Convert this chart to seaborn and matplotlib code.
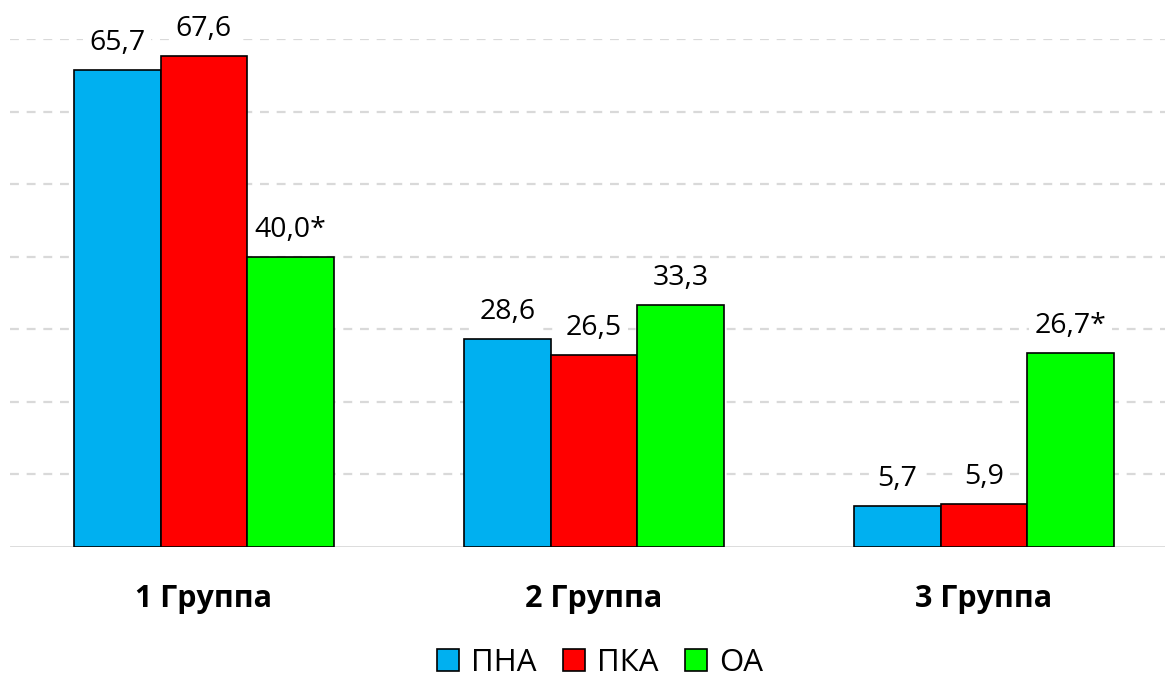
import matplotlib
matplotlib.use("Agg")
import matplotlib.pyplot as plt
from matplotlib.patches import Patch
import seaborn as sns
import pandas as pd

# Chart data
groups = ["1 Группа", "2 Группа", "3 Группа"]
series = ["ПНА", "ПКА", "ОА"]
pna = [65.7, 28.6, 5.7]
pka = [67.6, 26.5, 5.9]
oa = [40.0, 33.3, 26.7]
# significance marks appended to the value labels
pna_marks = ["", "", ""]
pka_marks = ["", "", ""]
oa_marks = ["*", "", "*"]

colors = ["#00B0F0", "#FF0000", "#00FF00"]

rows = []
for name, vals, marks in zip(series, [pna, pka, oa], [pna_marks, pka_marks, oa_marks]):
    for g, v, m in zip(groups, vals, marks):
        rows.append({"group": g, "series": name, "value": v, "mark": m})
df = pd.DataFrame(rows)

sns.set_theme(style="white")
plt.rcParams["font.family"] = ["Open Sans", "DejaVu Sans"]
plt.rcParams["text.color"] = "black"
plt.rcParams["xtick.color"] = "black"

fig = plt.figure(figsize=(11.66, 6.79), dpi=100)
ax = fig.add_axes([10 / 1166, 1 - 547 / 679, 1155 / 1166, (547 - 39) / 679])

sns.barplot(data=df, x="group", y="value", hue="series", order=groups,
            hue_order=series, palette=colors, width=0.667, saturation=1,
            edgecolor="black", linewidth=1.2, ax=ax, legend=False, zorder=3)

ax.set_ylim(0, 70)
ax.set_xlim(-0.497, 2.464)
ax.set_yticks(range(10, 71, 10))
ax.set_yticklabels([])
ax.tick_params(axis="y", length=0)
ax.yaxis.grid(True, color="#D9D9D9", linestyle=(0, (4, 3.5)), linewidth=1.6, zorder=0)
ax.set_axisbelow(True)
ax.axhline(0, color="#D9D9D9", linewidth=2, zorder=1)
for s in ax.spines.values():
    s.set_visible(False)

ax.set_xlabel("")
ax.set_ylabel("")
ax.tick_params(axis="x", length=0, pad=27)
for lab in ax.get_xticklabels():
    lab.set_fontsize(22)
    lab.set_fontweight("bold")
    lab.set_color("black")

# value labels above bars
for cont, name in zip(ax.containers, series):
    sub = df[df["series"] == name].set_index("group").loc[groups]
    for bar, v, m in zip(cont, sub["value"], sub["mark"]):
        txt = f"{v:.1f}".replace(".", ",") + m
        ax.annotate(txt, (bar.get_x() + bar.get_width() / 2, bar.get_height()),
                    xytext=(0, 20), textcoords="offset pixels",
                    ha="center", va="baseline", fontsize=20.5, color="black",
                    bbox=dict(boxstyle="square,pad=0.2", fc="white", ec="none"),
                    zorder=4, annotation_clip=False)

handles = [Patch(facecolor=c, edgecolor="black", linewidth=1.2) for c in colors]
leg = fig.legend(handles, series, loc="center", bbox_to_anchor=(600 / 1166, 1 - 663 / 679),
                 ncol=3, frameon=False, fontsize=22.5, handlelength=0.7, handleheight=0.7,
                 handletextpad=0.37, columnspacing=0.87, borderaxespad=0)
for t in leg.get_texts():
    t.set_color("black")

fig.savefig("out.png", dpi=100)
